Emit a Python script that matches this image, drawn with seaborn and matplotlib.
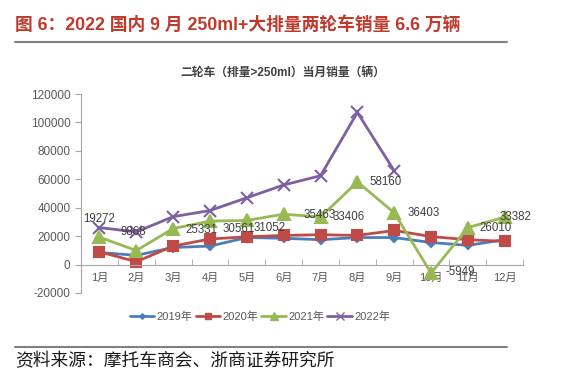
import matplotlib
matplotlib.use("Agg")
import matplotlib.pyplot as plt
import seaborn as sns
import pandas as pd
import numpy as np
from matplotlib.ticker import FixedLocator
from matplotlib.lines import Line2D

# data
months = ['1月', '2月', '3月', '4月', '5月', '6月', '7月', '8月', '9月', '10月', '11月', '12月']
sales_2019 = [8500, 6500, 12000, 13000, 19000, 18500, 17500, 19000, 19000, 15500, 13500, 17500]
sales_2020 = [9000, 2000, 13000, 18000, 19500, 20500, 21000, 20500, 24000, 19700, 17500, 16300]
sales_2021 = [19272, 9868, 25331, 30561, 31052, 35463, 33406, 58160, 36403, -5949, 26010, 33382]
sales_2022 = [26000, 23000, 33700, 38000, 47000, 56000, 62500, 107000, 66000]
series_names = ['2019年', '2020年', '2021年', '2022年']
yticks = [-20000, 0, 20000, 40000, 60000, 80000, 100000, 120000]

sns.set_style('white')
plt.rcParams['font.family'] = ['Liberation Sans', 'Noto Sans CJK SC', 'DejaVu Sans']

colors = {'2019年': '#4a7ebb', '2020年': '#be4b48', '2021年': '#98b954', '2022年': '#7d60a0'}
markers = {'2019年': 'D', '2020年': 's', '2021年': '^', '2022年': 'x'}
msizes = {'2019年': 4, '2020年': 7, '2021年': 8, '2022年': 9}

fig = plt.figure(figsize=(5.65, 3.78), dpi=100)
ax = fig.add_axes([0.1434, 0.2249, 0.7826, 0.5264])

for name, vals in zip(series_names, [sales_2019, sales_2020, sales_2021, sales_2022]):
    d = pd.DataFrame({'月': range(len(vals)), '销量': vals})
    sns.lineplot(data=d, x='月', y='销量', color=colors[name], marker=markers[name],
                 markersize=msizes[name], markeredgecolor=colors[name], markeredgewidth=1.5,
                 linewidth=2, ax=ax)

# data labels for 2021 (offsets in pixels)
offsets = [(0, 18), (-3, 19), (12, -1), (13, -8), (7, -8), (20, -1), (12, 0), (12, 0), (13, 0), (14, 1), (12, 0), (-5, 0)]
for i, v in enumerate(sales_2021):
    dx, dy = offsets[i]
    ax.annotate(str(v), (i, v), xytext=(dx * 0.72, dy * 0.72), textcoords='offset points',
                ha='left' if i > 1 else 'center', va='center', fontsize=8.3, color='#404040')

ax.set_xlim(-0.5, 11.5)
ax.set_ylim(-20000, 120000)
ax.set_yticks(yticks)
ax.set_yticklabels([str(t) for t in yticks])
ax.set_xticks(range(12))
ax.set_xticklabels(months)
ax.xaxis.set_minor_locator(FixedLocator(np.arange(-0.5, 12, 1)))
ax.tick_params(axis='x', which='major', length=0, labelsize=8, colors='#595959', pad=6)
ax.tick_params(axis='x', which='minor', length=4, direction='in', color='#a6a6a6', bottom=True)
ax.tick_params(axis='y', length=4, direction='out', color='#a6a6a6', labelsize=8.5, colors='#595959', left=True)
ax.spines['bottom'].set_position(('data', 0))
for s in ['top', 'right']:
    ax.spines[s].set_visible(False)
ax.spines['bottom'].set_color('#a6a6a6')
ax.spines['left'].set_color('#a6a6a6')
ax.set_xlabel('')
ax.set_ylabel('')

# legend
handles = [Line2D([], [], color=colors[n], marker=markers[n], markersize=msizes[n] * 0.7,
                  markeredgecolor=colors[n], lw=2) for n in series_names]
fig.legend(handles, series_names, loc='center', bbox_to_anchor=(0.46, 0.163), ncol=4, frameon=False,
           fontsize=8, handlelength=2.2, columnspacing=0.3, handletextpad=0.2, labelcolor='#595959')

# titles and decorations
fig.text(0.027, 0.935, '图 6：2022 国内 9 月 250ml+大排量两轮车销量 6.6 万辆', fontsize=12.8,
         fontweight='bold', color='#c0392b', va='center', ha='left')
fig.add_artist(plt.Line2D([0.027, 0.897], [0.888, 0.888], color='#808080', lw=1.5))
fig.text(0.5, 0.807, '二轮车（排量>250ml）当月销量（辆）', fontsize=8.5, fontweight='bold',
         color='#404040', ha='center', va='center')
fig.add_artist(plt.Line2D([0.027, 0.897], [0.082, 0.082], color='#808080', lw=1.5))
fig.text(0.027, 0.045, '资料来源：摩托车商会、浙商证券研究所', fontsize=12.8, color='#1a1a1a',
         ha='left', va='center', family=['Noto Sans CJK SC', 'DejaVu Sans'])

fig.savefig('out.png', dpi=100)
